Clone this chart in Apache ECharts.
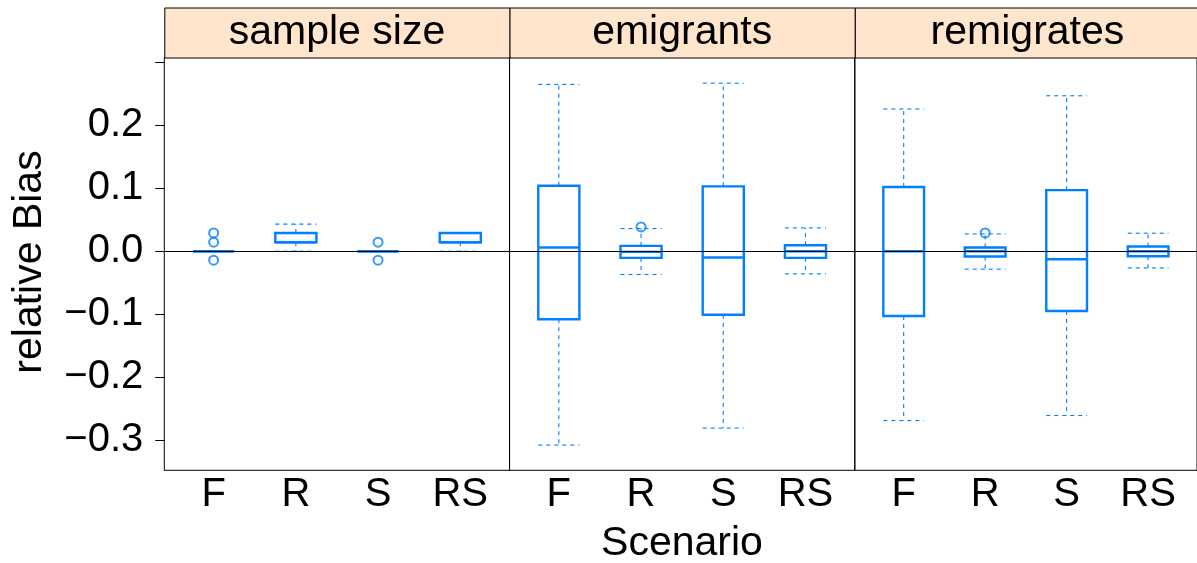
<!DOCTYPE html>
<html><head><meta charset="utf-8">
<script src="https://cdn.jsdelivr.net/npm/echarts@6/dist/echarts.min.js"></script>
<style>html,body{margin:0;padding:0;background:#fff}#c{width:1197px;height:563px}</style>
</head><body><div id="c"></div>
<script>
const scenarios = ['F', 'R', 'S', 'RS'];
const panelNames = ['sample size', 'emigrants', 'remigrates'];
const yTicks = [-0.3, -0.2, -0.1, 0.0, 0.1, 0.2, 0.3];
const yLabels = [-0.3, -0.2, -0.1, 0.0, 0.1, 0.2];

// [min, Q1, median, Q3, max] per scenario (F, R, S, RS)
const sampleSizeStats = [
  [0, 0, 0, 0, 0],
  [0, 0.0143, 0.0143, 0.029, 0.043],
  [0, 0, 0, 0, 0],
  [0, 0.0143, 0.0143, 0.029, 0.029]
];
const emigrantsStats = [
  [-0.308, -0.108, 0.006, 0.104, 0.265],
  [-0.037, -0.0106, -0.001, 0.0085, 0.036],
  [-0.281, -0.101, -0.010, 0.103, 0.267],
  [-0.036, -0.0106, 0.0, 0.0095, 0.037]
];
const remigratesStats = [
  [-0.269, -0.103, 0.0, 0.102, 0.226],
  [-0.0286, -0.0085, 0.0, 0.006, 0.0275],
  [-0.261, -0.095, -0.0127, 0.097, 0.247],
  [-0.0265, -0.008, 0.0, 0.0075, 0.0286]
];
// outliers per scenario (F, R, S, RS)
const sampleSizeOutliers = [[0.029, 0.0143, -0.0143], [], [0.0143, -0.0143], []];
const emigrantsOutliers = [[], [0.0386], [], []];
const remigratesOutliers = [[], [0.029], [], []];

const allStats = [sampleSizeStats, emigrantsStats, remigratesStats];
const allOutliers = [sampleSizeOutliers, emigrantsOutliers, remigratesOutliers];

const boxColor = '#0080ff';
const FONT = 'Liberation Sans, Arial, sans-serif';
const panelLeft = [164.3, 509.5, 854.8];
const panelWidth = 345.3;
const panelTop = 57.5;
const panelHeight = 412.8;
const stripTop = 7.5;

function renderBox(params, api) {
  const x = api.value(0);
  const v = [1, 2, 3, 4, 5].map(i => api.value(i));
  const hw = api.size([0.5, 0])[0] / 2;
  const c = val => api.coord([x, val]);
  const pMin = c(v[0]), pQ1 = c(v[1]), pMed = c(v[2]), pQ3 = c(v[3]), pMax = c(v[4]);
  const cx = pMed[0];
  const solid = { stroke: boxColor, lineWidth: 2.4, fill: null };
  const dashed = { stroke: boxColor, lineWidth: 1.1, lineDash: [4, 4], fill: null };
  return {
    type: 'group',
    children: [
      { type: 'line', shape: { x1: cx, y1: pQ3[1], x2: cx, y2: pMax[1] }, style: dashed },
      { type: 'line', shape: { x1: cx - hw, y1: pMax[1], x2: cx + hw, y2: pMax[1] }, style: dashed },
      { type: 'line', shape: { x1: cx, y1: pQ1[1], x2: cx, y2: pMin[1] }, style: dashed },
      { type: 'line', shape: { x1: cx - hw, y1: pMin[1], x2: cx + hw, y2: pMin[1] }, style: dashed },
      { type: 'rect', shape: { x: cx - hw, y: pQ3[1], width: 2 * hw, height: pQ1[1] - pQ3[1] }, style: solid },
      { type: 'line', shape: { x1: cx - hw, y1: pMed[1], x2: cx + hw, y2: pMed[1] }, style: solid }
    ]
  };
}

const grids = [], xAxes = [], yAxes = [], series = [], graphics = [];
panelNames.forEach((name, p) => {
  grids.push({ left: panelLeft[p], top: panelTop, width: panelWidth, height: panelHeight,
    show: true, borderColor: '#000', borderWidth: 1, backgroundColor: 'transparent', containLabel: false });
  xAxes.push({
    type: 'value', gridIndex: p, min: 0.4, max: 4.6,
    axisLine: { show: false }, axisTick: { show: false }, splitLine: { show: false },
    axisLabel: { show: true, customValues: [1, 2, 3, 4], formatter: v => scenarios[Math.round(v) - 1],
      color: '#000', fontSize: 40, fontFamily: FONT, margin: 5 }
  });
  yAxes.push({
    type: 'value', gridIndex: p, min: -0.3481, max: 0.3078,
    splitLine: { show: false }, axisLine: { show: false },
    axisTick: { show: p === 0, length: 9, customValues: yTicks, lineStyle: { color: '#000', width: 1 } },
    axisLabel: { show: p === 0, customValues: yLabels, color: '#000', fontSize: 40, fontFamily: FONT, margin: 21,
      formatter: v => (v < -1e-9 ? '\u2212' : '') + Math.abs(v).toFixed(1) }
  });
  series.push({
    type: 'line', xAxisIndex: p, yAxisIndex: p, data: [], z: 1, silent: true,
    markLine: { silent: true, symbol: ['none', 'none'], label: { show: false },
      lineStyle: { color: '#000', width: 1, type: 'solid' }, data: [{ yAxis: 0 }], animation: false }
  });
  series.push({
    type: 'custom', xAxisIndex: p, yAxisIndex: p, z: 3, silent: true,
    renderItem: renderBox,
    encode: { x: 0, y: [1, 2, 3, 4, 5] },
    data: allStats[p].map((s, i) => [i + 1].concat(s))
  });
  const outData = [];
  allOutliers[p].forEach((arr, i) => arr.forEach(val => outData.push([i + 1, val])));
  series.push({
    type: 'scatter', xAxisIndex: p, yAxisIndex: p, z: 4, silent: true,
    symbol: 'circle', symbolSize: 9,
    itemStyle: { color: 'rgba(0,0,0,0)', borderColor: boxColor, borderWidth: 2 },
    data: outData
  });
  graphics.push({
    type: 'rect', left: panelLeft[p], top: stripTop, z: 10,
    shape: { width: panelWidth, height: panelTop - stripTop },
    style: { fill: '#ffe5cc', stroke: '#000', lineWidth: 1 }
  });
  graphics.push({
    type: 'text', x: panelLeft[p] + panelWidth / 2, y: (stripTop + panelTop) / 2, z: 11,
    style: { text: name, font: '41px ' + FONT, fill: '#000', align: 'center', verticalAlign: 'middle' }
  });
});
graphics.push({
  type: 'text', x: 682, y: 544, z: 11,
  style: { text: 'Scenario', font: '41px ' + FONT, fill: '#000', align: 'center', verticalAlign: 'middle' }
});
graphics.push({
  type: 'text', x: 30, y: 262, rotation: Math.PI / 2, z: 11,
  style: { text: 'relative Bias', font: '41px ' + FONT, fill: '#000', align: 'center', verticalAlign: 'middle' }
});

const chart = echarts.init(document.getElementById('c'), null, { renderer: 'canvas' });
chart.setOption({
  animation: false,
  backgroundColor: '#fff',
  grid: grids, xAxis: xAxes, yAxis: yAxes, series: series, graphic: graphics
});
</script></body></html>
